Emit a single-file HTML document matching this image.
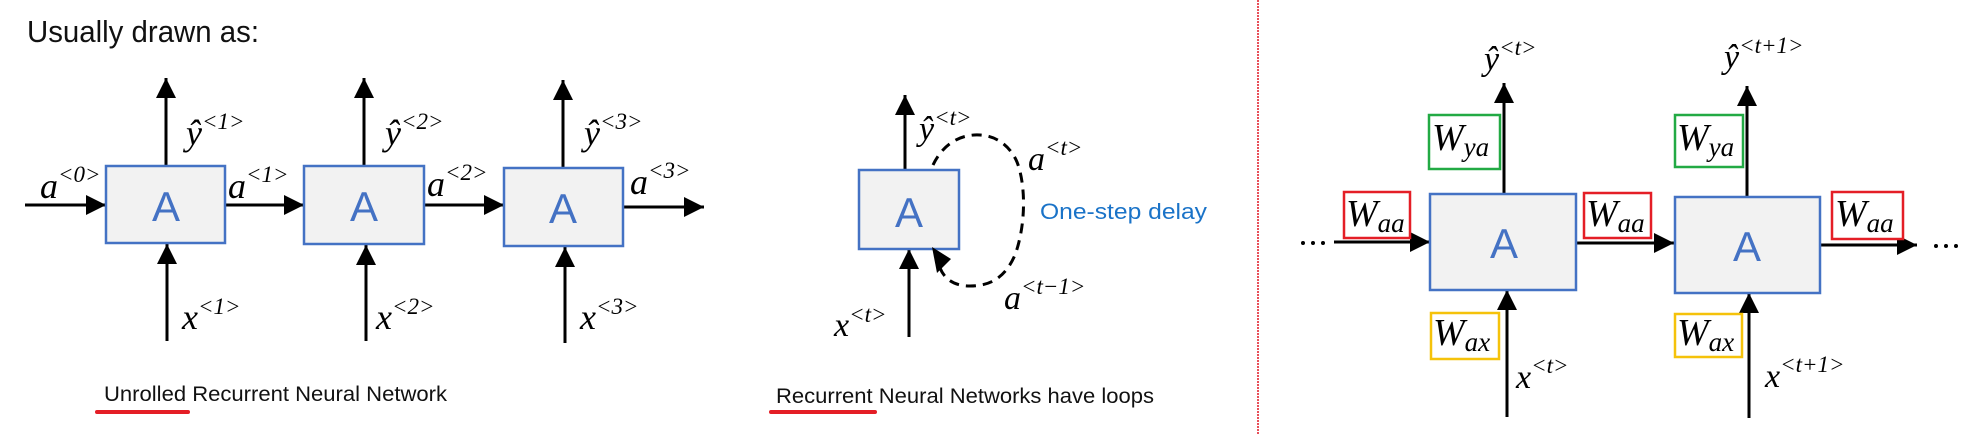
<!DOCTYPE html>
<html><head><meta charset="utf-8"><style>
html,body{margin:0;padding:0;background:#fff;}
svg{display:block;}
.m{font-family:"Liberation Serif",serif;font-style:italic;fill:#000;}
.s{font-family:"Liberation Sans",sans-serif;}
</style></head><body>
<svg width="1976" height="435" viewBox="0 0 1976 435" xmlns="http://www.w3.org/2000/svg">
<defs>
<marker id="ah" markerUnits="userSpaceOnUse" markerWidth="22" markerHeight="22" refX="20" refY="11" orient="auto">
<path d="M0,1 L20,11 L0,21 Z" fill="#000"/>
</marker>
</defs>
<rect width="1976" height="435" fill="#fff"/>

<!-- LEFT PANEL -->
<text x="27" y="42" class="s" font-size="31" fill="#111" textLength="232" lengthAdjust="spacingAndGlyphs">Usually drawn as:</text>

<g stroke="#000" stroke-width="3" fill="none" marker-end="url(#ah)">
<line x1="166" y1="166" x2="166" y2="78"/>
<line x1="364" y1="166" x2="364" y2="78"/>
<line x1="563" y1="168" x2="563" y2="80"/>
<line x1="167" y1="341" x2="167" y2="244"/>
<line x1="366" y1="341" x2="366" y2="245"/>
<line x1="565" y1="343" x2="565" y2="247"/>
<line x1="25" y1="205" x2="106" y2="205"/>
<line x1="225" y1="205" x2="304" y2="205"/>
<line x1="424" y1="205" x2="504" y2="205"/>
<line x1="623" y1="207" x2="704" y2="207"/>
</g>
<g fill="#f2f2f2" stroke="#4472c4" stroke-width="2.5">
<rect x="106" y="166" width="119" height="77"/>
<rect x="304" y="166" width="120" height="78"/>
<rect x="504" y="168" width="119" height="78"/>
</g>
<g class="s" font-size="42" fill="#4472c4" text-anchor="middle">
<text x="166" y="221">A</text><text x="364" y="221">A</text><text x="563" y="223">A</text>
</g>
<g class="m" font-size="36">
<text x="186" y="145">ŷ<tspan font-size="23" dy="-16">&lt;1&gt;</tspan></text>
<text x="385" y="145">ŷ<tspan font-size="23" dy="-16">&lt;2&gt;</tspan></text>
<text x="584" y="145">ŷ<tspan font-size="23" dy="-16">&lt;3&gt;</tspan></text>
<text x="40" y="198">a<tspan font-size="23" dy="-16">&lt;0&gt;</tspan></text>
<text x="228" y="198">a<tspan font-size="23" dy="-16">&lt;1&gt;</tspan></text>
<text x="427" y="196">a<tspan font-size="23" dy="-16">&lt;2&gt;</tspan></text>
<text x="630" y="194">a<tspan font-size="23" dy="-16">&lt;3&gt;</tspan></text>
<text x="182" y="329">x<tspan font-size="23" dy="-15">&lt;1&gt;</tspan></text>
<text x="376" y="329">x<tspan font-size="23" dy="-15">&lt;2&gt;</tspan></text>
<text x="580" y="329">x<tspan font-size="23" dy="-15">&lt;3&gt;</tspan></text>
</g>
<text x="104" y="401" class="s" font-size="21" fill="#111" textLength="343" lengthAdjust="spacingAndGlyphs">Unrolled Recurrent Neural Network</text>
<rect x="95" y="410" width="95" height="4" rx="2" fill="#e41e26"/>

<!-- MIDDLE PANEL -->
<g stroke="#000" stroke-width="3" fill="none" marker-end="url(#ah)">
<line x1="905" y1="170" x2="905" y2="95"/>
<line x1="909" y1="337" x2="909" y2="249"/>
</g>
<rect x="859" y="170" width="100" height="79" fill="#f2f2f2" stroke="#4472c4" stroke-width="2.5"/>
<text x="909" y="227" class="s" font-size="42" fill="#4472c4" text-anchor="middle">A</text>
<path d="M933,165 C945,140 965,134 980,135 C1000,136 1012,150 1017,162 C1026,185 1026,225 1015,255 C1005,278 990,286 970,286 C955,286 945,280 940,268" fill="none" stroke="#000" stroke-width="3" stroke-dasharray="10,7"/>
<path d="M932,247 L951,259 L937,273 Z" fill="#000"/>
<g class="m" font-size="34">
<text x="919" y="140">ŷ<tspan font-size="23" dy="-15">&lt;t&gt;</tspan></text>
<text x="1028" y="170">a<tspan font-size="23" dy="-15">&lt;t&gt;</tspan></text>
<text x="1004" y="309">a<tspan font-size="23" dy="-15">&lt;t−1&gt;</tspan></text>
<text x="834" y="336">x<tspan font-size="23" dy="-14">&lt;t&gt;</tspan></text>
</g>
<text x="1040" y="219" class="s" font-size="22" fill="#1a73c8" textLength="167" lengthAdjust="spacingAndGlyphs">One-step delay</text>
<text x="776" y="403" class="s" font-size="21" fill="#111" textLength="378" lengthAdjust="spacingAndGlyphs">Recurrent Neural Networks have loops</text>
<rect x="769" y="410" width="108" height="4" rx="2" fill="#e41e26"/>

<!-- divider -->
<line x1="1258" y1="0" x2="1258" y2="435" stroke="#e8505a" stroke-width="2" stroke-dasharray="2,1"/>

<!-- RIGHT PANEL -->
<g stroke="#000" stroke-width="3" fill="none" marker-end="url(#ah)">
<line x1="1504" y1="194" x2="1504" y2="83"/>
<line x1="1747" y1="197" x2="1747" y2="86"/>
<line x1="1507" y1="417" x2="1507" y2="290"/>
<line x1="1749" y1="418" x2="1749" y2="293"/>
<line x1="1334" y1="242" x2="1430" y2="242"/>
<line x1="1576" y1="243" x2="1674" y2="243"/>
<line x1="1820" y1="245" x2="1917" y2="245"/>
</g>
<g fill="#f2f2f2" stroke="#4472c4" stroke-width="2.5">
<rect x="1430" y="194" width="146" height="96"/>
<rect x="1675" y="197" width="145" height="96"/>
</g>
<g class="s" font-size="42" fill="#4472c4" text-anchor="middle">
<text x="1504" y="258">A</text><text x="1747" y="261">A</text>
</g>
<g fill="#000">
<circle cx="1303" cy="243" r="2"/><circle cx="1313" cy="243" r="2"/><circle cx="1323" cy="243" r="2"/>
<circle cx="1936" cy="246" r="2"/><circle cx="1946" cy="246" r="2"/><circle cx="1956" cy="246" r="2"/>
</g>
<g fill="#fff" stroke-width="2.5">
<rect x="1429" y="115" width="71" height="54" stroke="#22aa44"/>
<rect x="1675" y="115" width="68" height="52" stroke="#22aa44"/>
<rect x="1344" y="192" width="66" height="46" stroke="#e41e26"/>
<rect x="1584" y="193" width="67" height="45" stroke="#e41e26"/>
<rect x="1832" y="192" width="71" height="47" stroke="#e41e26"/>
<rect x="1431" y="313" width="68" height="46" stroke="#f5c20a"/>
<rect x="1675" y="314" width="67" height="43" stroke="#f5c20a"/>
</g>
<g class="m" font-size="38">
<text x="1432" y="150">W<tspan font-size="27" dy="6">ya</tspan></text>
<text x="1677" y="150">W<tspan font-size="27" dy="6">ya</tspan></text>
<text x="1346" y="226">W<tspan font-size="27" dy="6">aa</tspan></text>
<text x="1586" y="226">W<tspan font-size="27" dy="6">aa</tspan></text>
<text x="1835" y="226">W<tspan font-size="27" dy="6">aa</tspan></text>
<text x="1433" y="345">W<tspan font-size="27" dy="6">ax</tspan></text>
<text x="1677" y="345">W<tspan font-size="27" dy="6">ax</tspan></text>
</g>
<g class="m" font-size="34">
<text x="1484" y="70">ŷ<tspan font-size="23" dy="-15">&lt;t&gt;</tspan></text>
<text x="1724" y="68">ŷ<tspan font-size="23" dy="-15">&lt;t+1&gt;</tspan></text>
<text x="1516" y="388">x<tspan font-size="23" dy="-15">&lt;t&gt;</tspan></text>
<text x="1765" y="387">x<tspan font-size="23" dy="-15">&lt;t+1&gt;</tspan></text>
</g>
</svg>
</body></html>
